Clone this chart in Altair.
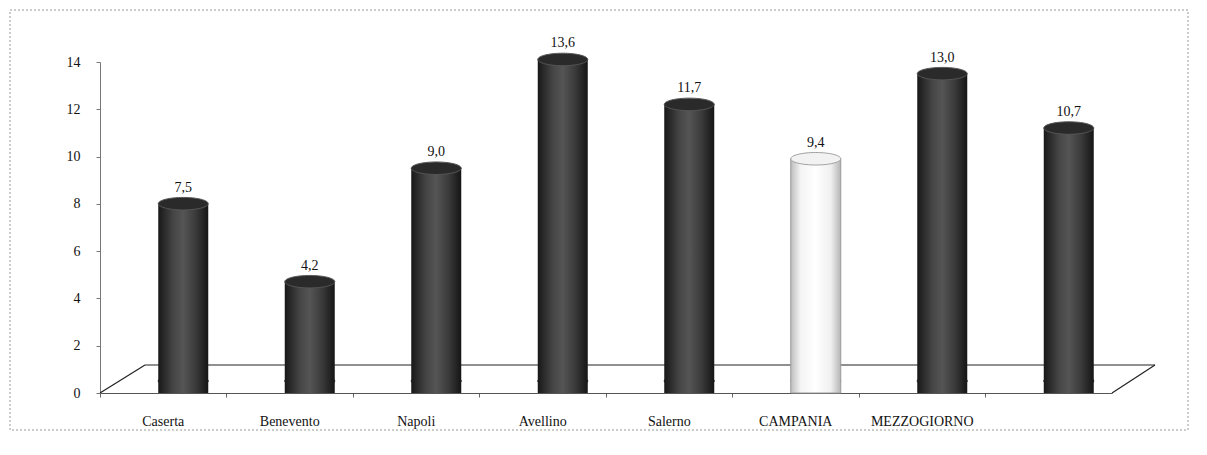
import altair as alt
import pandas as pd

categories = ["Caserta", "Benevento", "Napoli", "Avellino", "Salerno", "CAMPANIA", "MEZZOGIORNO", " "]
values = [7.5, 4.2, 9.0, 13.6, 11.7, 9.4, 13.0, 10.7]
value_labels = ["7,5", "4,2", "9,0", "13,6", "11,7", "9,4", "13,0", "10,7"]
highlight = "CAMPANIA"
y_ticks = [0, 2, 4, 6, 8, 10, 12, 14]

df = pd.DataFrame({"cat": categories, "val": values, "lab": value_labels,
                   "zero": [0] * len(values)})
one = pd.DataFrame({"k": [0]})

W, H = 1012, 331
SERIF = "Liberation Serif"
XOFF, YOFF = 20, -12
ELLIPSE = "M -1 0 A 1 0.25 0 1 1 1 0 A 1 0.25 0 1 1 -1 0 Z"

x_enc = alt.X("cat:N", sort=categories, title=None,
              scale=alt.Scale(paddingInner=0, paddingOuter=0),
              axis=alt.Axis(labelAngle=0, labelFont=SERIF, labelFontSize=14,
                            labelColor="#111", labelPadding=17, bandPosition=0,
                            tickSize=4, tickColor="#666", domainColor="#555",
                            labelLimit=200))
y_scale = alt.Scale(domain=[0, 14], nice=False)
y_enc = alt.Y("val:Q", scale=y_scale, title=None,
              axis=alt.Axis(values=y_ticks, grid=False, labelFont=SERIF,
                            labelFontSize=14, labelColor="#111", labelPadding=16,
                            tickSize=4, tickColor="#777", domainColor="#777"))

base = alt.Chart(df)

border = alt.Chart(one).mark_rect(fill=None, stroke="#999", strokeDash=[2, 2],
                                  strokeWidth=1, clip=False).encode(
    x=alt.value(-90), x2=alt.value(1088), y=alt.value(-52), y2=alt.value(368))

floor_style = dict(color="#222", strokeWidth=1.2, clip=False)
floor_left = alt.Chart(one).mark_rule(**floor_style).encode(
    x=alt.value(0), x2=alt.value(45), y=alt.value(H), y2=alt.value(H - 28))
floor_back = alt.Chart(one).mark_rule(**floor_style).encode(
    x=alt.value(45), x2=alt.value(1055), y=alt.value(H - 28), y2=alt.value(H - 28))
floor_right = alt.Chart(one).mark_rule(**floor_style).encode(
    x=alt.value(1055), x2=alt.value(W), y=alt.value(H - 28), y2=alt.value(H))

dark_grad = alt.Gradient(gradient="linear", x1=0, x2=1, y1=0, y2=0, stops=[
    alt.GradientStop(color="#181818", offset=0),
    alt.GradientStop(color="#454545", offset=0.3),
    alt.GradientStop(color="#555555", offset=0.5),
    alt.GradientStop(color="#3a3a3a", offset=0.75),
    alt.GradientStop(color="#151515", offset=1)])
light_grad = alt.Gradient(gradient="linear", x1=0, x2=1, y1=0, y2=0, stops=[
    alt.GradientStop(color="#bdbdbd", offset=0),
    alt.GradientStop(color="#f4f4f4", offset=0.2),
    alt.GradientStop(color="#ffffff", offset=0.5),
    alt.GradientStop(color="#f0f0f0", offset=0.8),
    alt.GradientStop(color="#b5b5b5", offset=1)])

is_hl = alt.datum.cat == highlight

bottom_ell = base.mark_point(shape=ELLIPSE, filled=True, size=2500,
                             xOffset=XOFF, yOffset=YOFF, strokeWidth=1).encode(
    x=x_enc, y=alt.Y("zero:Q", scale=y_scale),
    fill=alt.condition(is_hl, alt.value("#ffffff"), alt.value("#222222")),
    stroke=alt.condition(is_hl, alt.value("#aaaaaa"), alt.value("#222222")),
    opacity=alt.value(1))

bars_dark = base.transform_filter(alt.datum.cat != highlight).mark_bar(
    size=50, xOffset=XOFF, yOffset=YOFF, color=dark_grad).encode(
    x=x_enc, y=y_enc, y2="zero:Q")
bars_light = base.transform_filter(is_hl).mark_bar(
    size=50, xOffset=XOFF, yOffset=YOFF, color=light_grad,
    stroke="#9a9a9a", strokeWidth=1).encode(
    x=x_enc, y=y_enc, y2="zero:Q")

top_ell = base.mark_point(shape=ELLIPSE, filled=True, size=2500,
                          xOffset=XOFF, yOffset=YOFF, strokeWidth=1).encode(
    x=x_enc, y=alt.Y("val:Q", scale=y_scale),
    fill=alt.condition(is_hl, alt.value("#f2f2f2"), alt.value("#2a2a2a")),
    stroke=alt.condition(is_hl, alt.value("#a0a0a0"), alt.value("#555555")),
    opacity=alt.value(1))

labels = base.mark_text(font=SERIF, fontSize=14, color="#111", baseline="bottom",
                        xOffset=XOFF, dy=-21).encode(
    x=x_enc, y=alt.Y("val:Q", scale=y_scale), text="lab:N")

chart = alt.layer(border, floor_left, floor_back, floor_right,
                  bottom_ell, bars_dark, bars_light, top_ell, labels).properties(
    width=W, height=H,
    autosize=alt.AutoSizeParams(type="none"),
    padding={"left": 92, "top": 54, "right": 80, "bottom": 54},
    background="white",
).configure_view(stroke=None)

chart.save("out.html", embed_options={"renderer": "svg", "actions": False})
